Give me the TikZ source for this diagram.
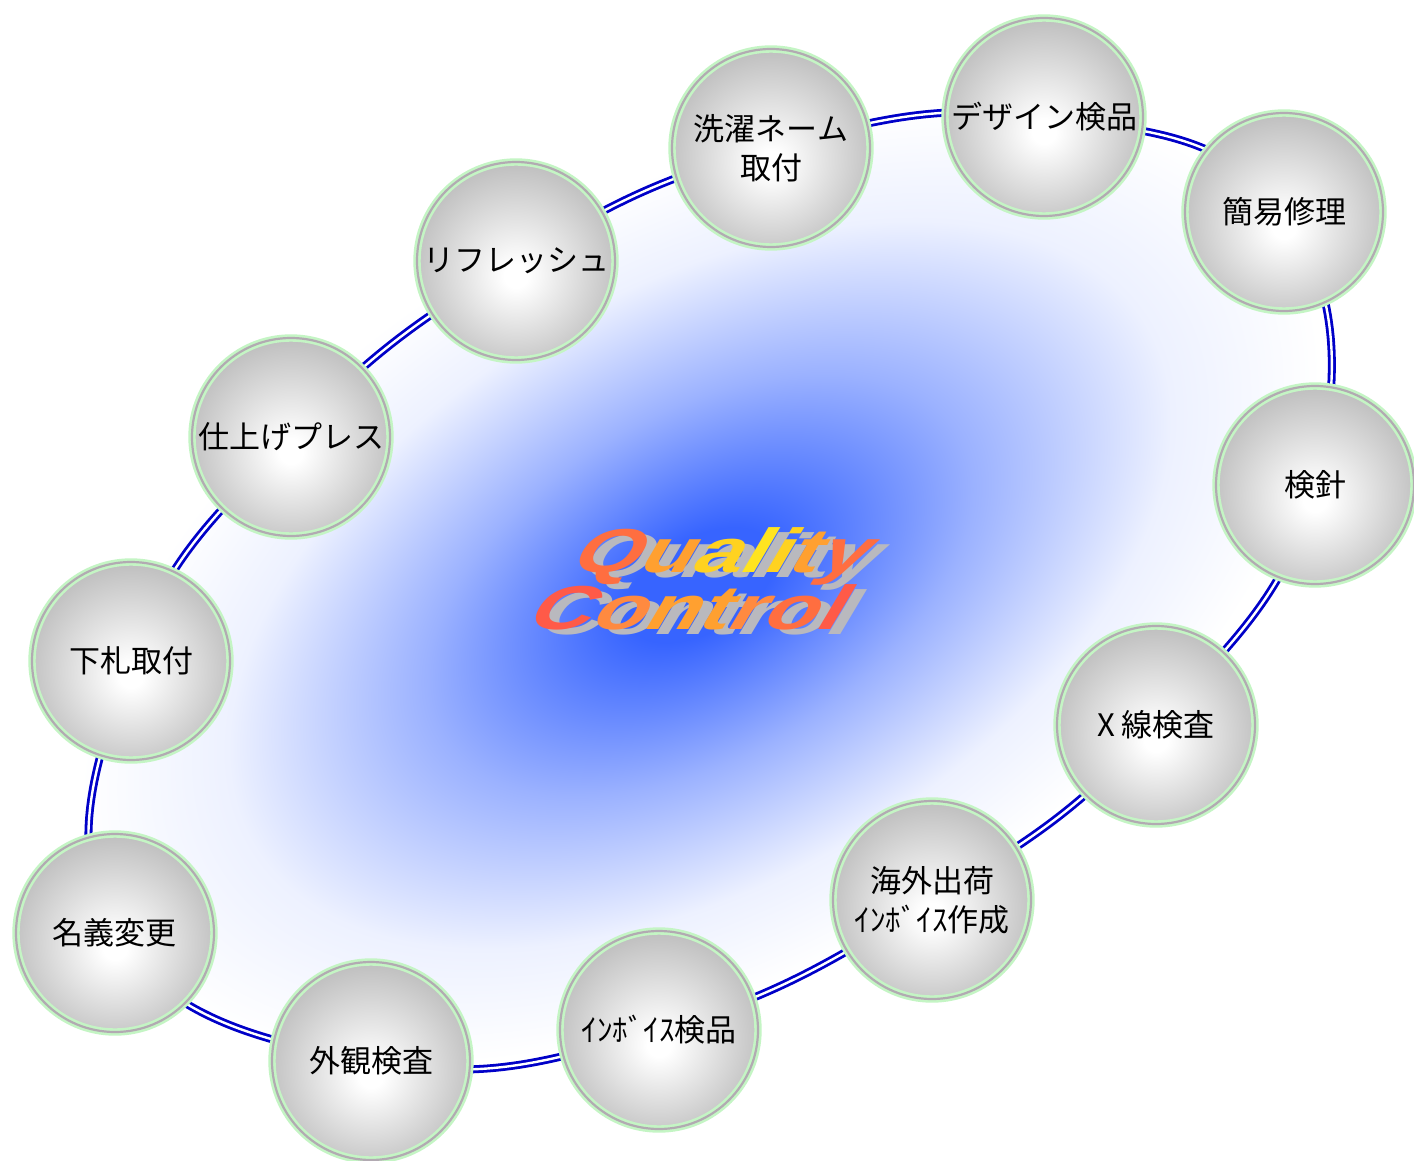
\documentclass[tikz,border=0pt]{standalone}
\usepackage{fontspec}
\setmainfont{Noto Sans CJK JP}
\newfontfamily\qcfont{Liberation Sans Bold}[FakeSlant=0.42]
\pgfdeclarelayer{back}
\pgfdeclarelayer{conn}
\pgfsetlayers{back,conn,main}
\definecolor{ringgreen}{RGB}{196,245,196}
\definecolor{ringgray}{RGB}{178,170,178}
\definecolor{ballgray}{RGB}{190,190,190}
\definecolor{connblue}{RGB}{0,0,200}
\definecolor{bgblue}{RGB}{55,100,255}
\colorlet{bgmid}{bgblue!50!white}
\colorlet{bgpale}{bgblue!9!white}
\definecolor{qcgray}{RGB}{185,185,190}
\definecolor{qa}{RGB}{255,110,64}
\definecolor{qb}{RGB}{255,160,48}
\definecolor{qc}{RGB}{255,210,32}
\definecolor{qd}{RGB}{255,228,32}
\definecolor{qe}{RGB}{255,90,72}
\definecolor{qf}{RGB}{255,138,64}
\pgfdeclareradialshading{ballshade}{\pgfpoint{0bp}{-4bp}}{color(0bp)=(white); color(3bp)=(white); color(27bp)=(ballgray); color(50bp)=(ballgray)}
\pgfdeclareradialshading{bgshade}{\pgfpoint{0bp}{0bp}}{color(0bp)=(bgblue); color(3bp)=(bgblue); color(11bp)=(bgmid); color(19bp)=(bgpale); color(25bp)=(white); color(50bp)=(white)}
\tikzset{
  ball/.style={circle, minimum size=99pt, inner sep=0pt, draw=ringgreen, line width=1.3pt,
    double=ringgray, double distance=1.1pt, shade, shading=ballshade, align=center,
    font=\fontsize{15.5}{19.5}\selectfont},
  conn/.style={draw=connblue, line width=1.4pt, double=white, double distance=1.2pt},
  qcstyle/.style={anchor=base, inner sep=0pt, font=\qcfont\fontsize{31}{36}\selectfont},
}
\begin{document}
\begin{tikzpicture}[x=0.5pt, y=-0.5pt]
\useasboundingbox (0,0) rectangle (1414,1161);
\begin{pgfonlayer}{back}
  \fill[white] (0,0) rectangle (1414,1161);
  \begin{scope}[transform canvas={shift={(700,585)}, rotate=30}]
    \shade[shading=bgshade] (0,0) ellipse [x radius=680, y radius=390];
  \end{scope}
\end{pgfonlayer}

\node[ball] (n1) at (771,148) {洗濯ネーム\\取付};
\node[ball] (n2) at (1044,117) {デザイン検品};
\node[ball] (n3) at (1284,212) {簡易修理};
\node[ball] (n4) at (1315,485) {検針};
\node[ball] (n5) at (1156,725) {X 線検査};
\node[ball] (n6) at (932,900) {海外出荷\\ｲﾝﾎﾞｲｽ作成};
\node[ball] (n7) at (659,1030) {ｲﾝﾎﾞｲｽ検品};
\node[ball] (n8) at (371,1061) {外観検査};
\node[ball] (n9) at (115,933) {名義変更};
\node[ball] (n10) at (131,661) {下札取付};
\node[ball] (n11) at (291,437) {仕上げプレス};
\node[ball] (n12) at (516,261) {リフレッシュ};

\begin{pgfonlayer}{conn}
  \draw[conn] plot[smooth cycle, tension=0.75] coordinates {(n1.center) (n2.center) (n3.center) (n4.center) (n5.center) (n6.center) (n7.center) (n8.center) (n9.center) (n10.center) (n11.center) (n12.center)};
\end{pgfonlayer}

\node[qcstyle, text=qcgray] (qs) at (725,577) {\scalebox{1.4}[1]{Quality}};
\node[qcstyle] (q) at (715,572) {\scalebox{1.4}[1]{\textcolor{qa}{Q}\textcolor{qb}{u}\textcolor{qc}{a}\textcolor{qd}{l}\textcolor{qc}{i}\textcolor{qb}{t}\textcolor{qa}{y}}};
\node[qcstyle, text=qcgray] (cs) at (690,634) {\scalebox{1.42}[1]{Control}};
\node[qcstyle] (c) at (680,629) {\scalebox{1.42}[1]{\textcolor{qe}{C}\textcolor{qf}{o}\textcolor{qb}{n}\textcolor{qb}{t}\textcolor{qf}{r}\textcolor{qa}{o}\textcolor{qe}{l}}};
\end{tikzpicture}
\end{document}
